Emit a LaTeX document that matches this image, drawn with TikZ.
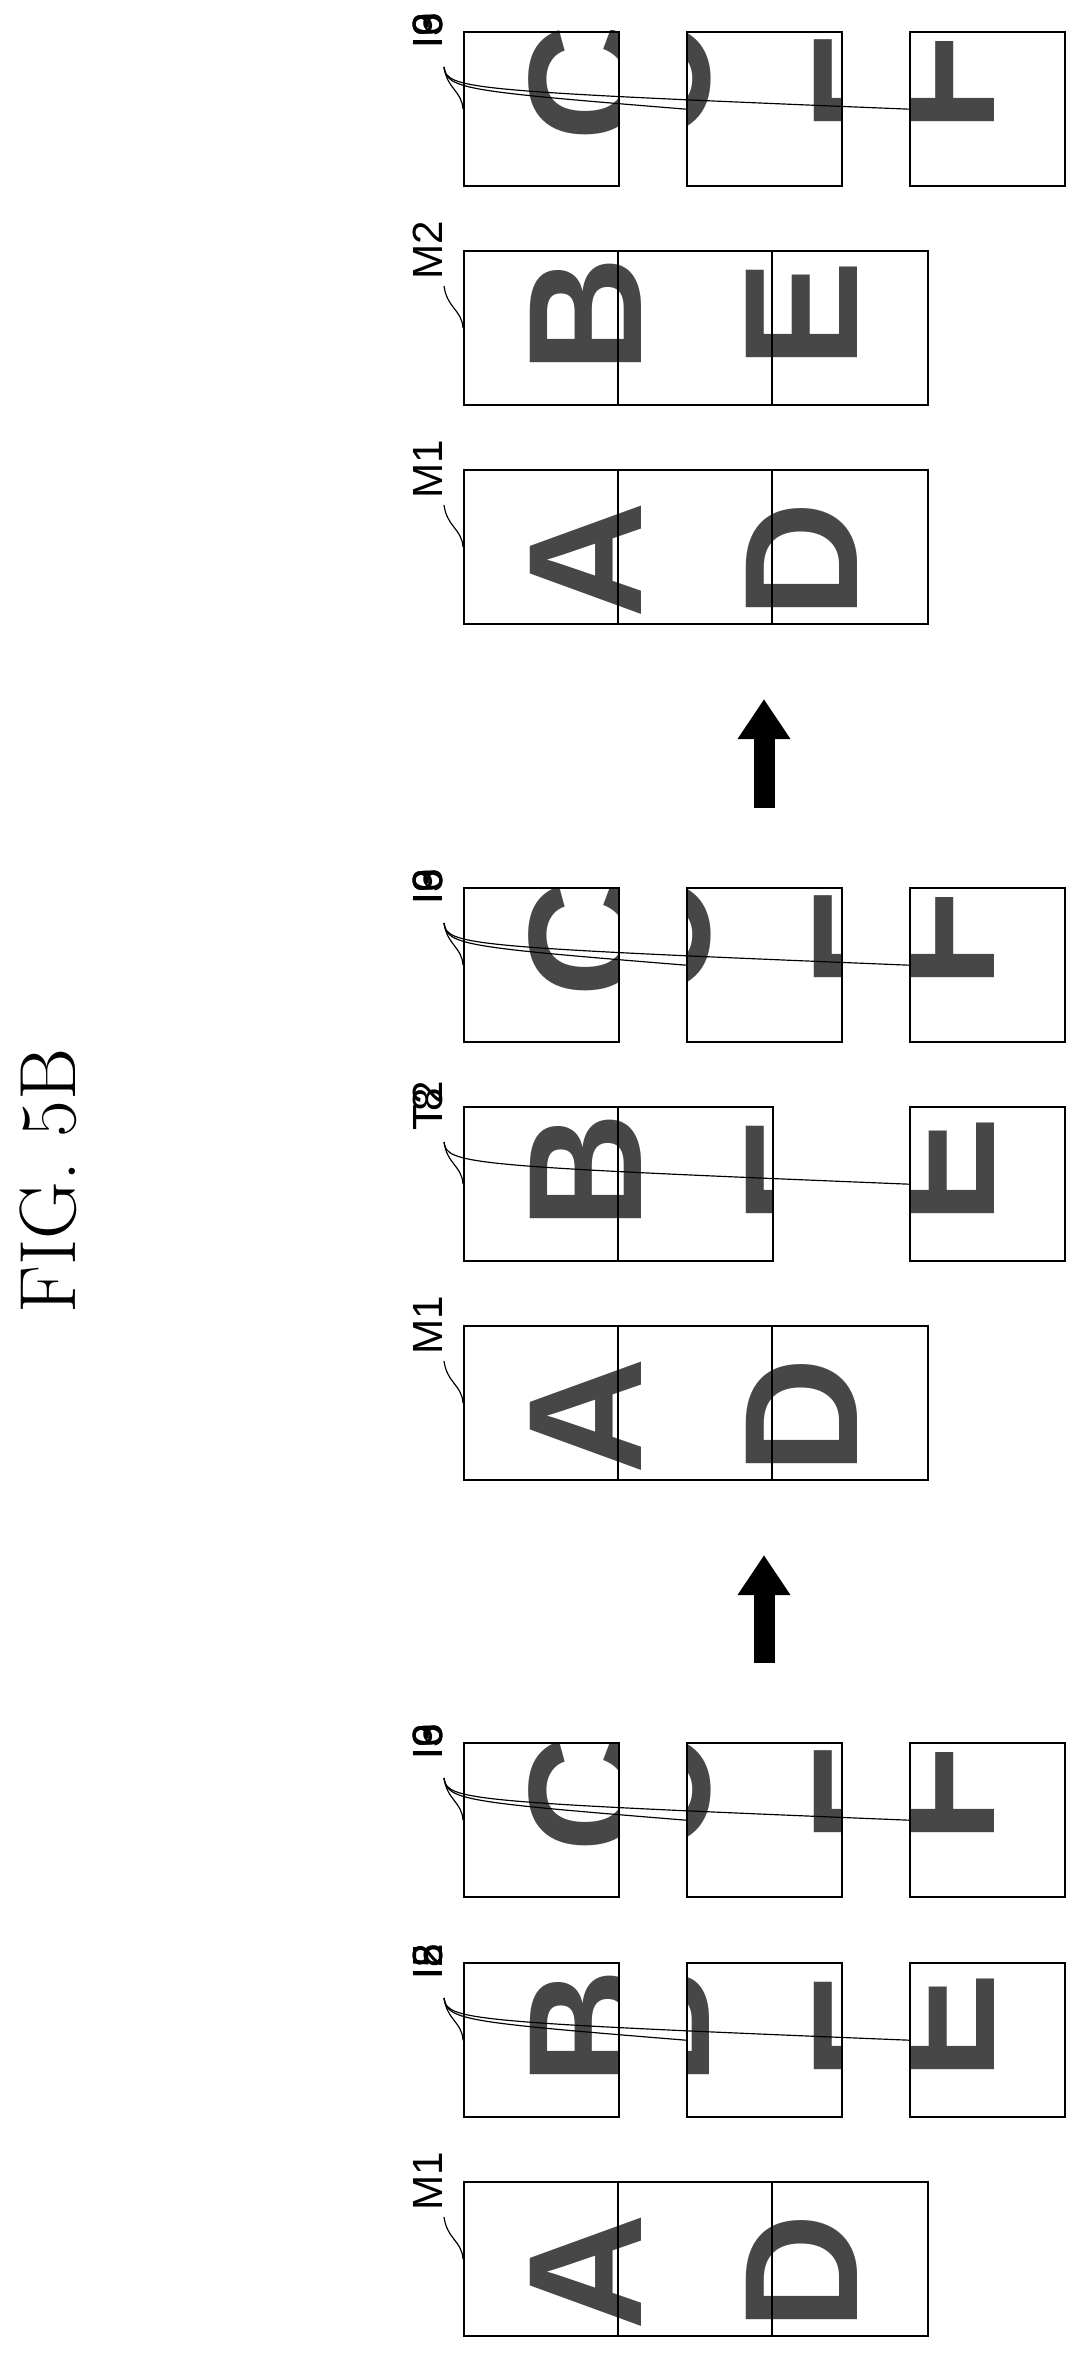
\documentclass[tikz,border=0pt]{standalone}
\usepackage{fontspec}
\newfontfamily\tilefont{Liberation Sans}
\usetikzlibrary{arrows.meta}
\tikzstyle{tilebox} = [draw, line width=2pt]
\tikzstyle{letter} = [rotate=90, inner sep=0pt, text=black!72, font=\tilefont\bfseries\fontsize{138}{138}\selectfont]
\tikzstyle{tag} = [rotate=90, inner sep=0pt, font=\tilefont\fontsize{36}{36}\selectfont]
\tikzstyle{leader} = [draw, line width=1pt]
\tikzstyle{bigarrow} = [draw, line width=0.63cm, -{Triangle[width=1.5cm, length=1.2cm]}]

% #1 name, #2 label, #3 left x, #4 top y, #5 width, #6 page shift, #7/#8 letters, #9 letter offset
\newcommand{\tile}[9]{%
  \begin{scope}
    \clip (#3,#4) rectangle ++(#5,154);
    \node [letter] at (586+#6,#4+#9) {#7};
    \node [letter] at (802+#6,#4+#9) {#8};
  \end{scope}
  \node [tilebox, minimum width=#5*0.03cm, minimum height=154*0.03cm, anchor=north west] (#1) at (#3,#4) {};
  \node [tag] (#1-tag) at (428,#4) {#2};
  \path [leader] (444,#4+36) .. controls (447,#4+58) and (462,#4+60) .. (#1.west);
}

\begin{document}
\begin{tikzpicture}[x=0.03cm, y=-0.03cm]
    \useasboundingbox (0,0) rectangle (1086,2357);
    \node [rotate=90, font=\fontsize{68}{68}\selectfont] (title) at (48,1181) {FIG.\ 5B};

    % top group
    \tile{t3}{I3}{463}{31}{155}{0}{C}{F}{52}
    \tile{t6}{I6}{686}{31}{155}{68}{C}{F}{52}
    \tile{t9}{I9}{909}{31}{155}{137}{C}{F}{52}
    \tile{tm2}{M2}{463}{250}{464}{0}{B}{E}{65}
    \tile{tm1}{M1}{463}{469}{464}{0}{A}{D}{91}
    \draw [line width=1.5pt] (618,250) -- (618,404) (772,250) -- (772,404);
    \draw [line width=1.5pt] (618,469) -- (618,623) (772,469) -- (772,623);

    % middle group
    \tile{m3}{I3}{463}{887}{155}{0}{C}{F}{52}
    \tile{m6}{I6}{686}{887}{155}{68}{C}{F}{52}
    \tile{m9}{I9}{909}{887}{155}{137}{C}{F}{52}
    \tile{mt2}{T2}{463}{1106}{309}{0}{B}{E}{65}
    \tile{m8}{I8}{909}{1106}{155}{137}{B}{E}{65}
    \tile{mm1}{M1}{463}{1325}{464}{0}{A}{D}{91}
    \draw [line width=1.5pt] (618,1106) -- (618,1260);
    \draw [line width=1.5pt] (618,1325) -- (618,1479) (772,1325) -- (772,1479);

    % bottom group
    \tile{b3}{I3}{463}{1742}{155}{0}{C}{F}{52}
    \tile{b6}{I6}{686}{1742}{155}{68}{C}{F}{52}
    \tile{b9}{I9}{909}{1742}{155}{137}{C}{F}{52}
    \tile{b2}{I2}{463}{1962}{155}{0}{B}{E}{65}
    \tile{b5}{I5}{686}{1962}{155}{68}{B}{E}{65}
    \tile{b8}{I8}{909}{1962}{155}{137}{B}{E}{65}
    \tile{bm1}{M1}{463}{2181}{464}{0}{A}{D}{91}
    \draw [line width=1.5pt] (618,2181) -- (618,2335) (772,2181) -- (772,2335);

    % arrows
    \coordinate (up1s) at (764,808);
    \coordinate (up1e) at (764,699);
    \coordinate (up2s) at (764,1663);
    \coordinate (up2e) at (764,1555);
    \path [bigarrow] (up1s) -- (up1e);
    \path [bigarrow] (up2s) -- (up2e);
\end{tikzpicture}
\end{document}
